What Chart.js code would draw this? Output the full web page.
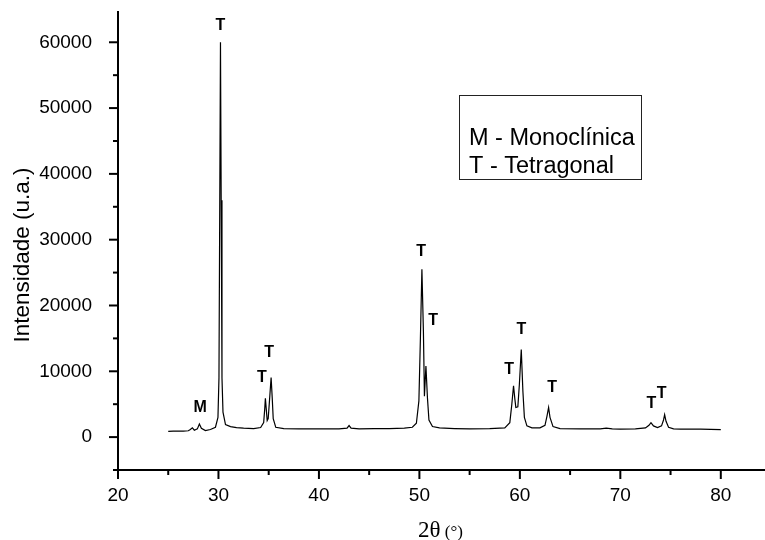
<!DOCTYPE html>
<html>
<head>
<meta charset="utf-8">
<script src="https://cdn.jsdelivr.net/npm/chart.js@4"></script>
<style>
  html, body { margin: 0; padding: 0; background: #fff; }
  #wrap { width: 765px; height: 540px; }
</style>
</head>
<body>
<div id="wrap"><canvas id="xrd" width="765" height="540"></canvas></div>
<script>
// DATA

const twoTheta = [25.0, 25.5, 26.0, 26.5, 27.0, 27.2, 27.4, 27.6, 27.9, 28.1, 28.3, 28.7, 29.2, 29.7,
  29.95, 30.05, 30.13, 30.2, 30.27, 30.35, 30.45, 30.7, 31.2, 31.8, 32.5, 33.5, 34.2, 34.5, 34.6,
  34.67, 34.75, 34.85, 34.95, 35.1, 35.24, 35.35, 35.45, 35.7, 36.5, 38, 40, 42, 42.8, 43.0, 43.2,
  44, 45.5, 47, 48.5, 49.3, 49.7, 49.95, 50.1, 50.25, 50.4, 50.5, 50.65, 50.8, 50.95, 51.3, 52,
  53.5, 55, 57, 58.5, 59.0, 59.2, 59.37, 59.5, 59.6, 59.8, 59.95, 60.14, 60.3, 60.45, 60.7, 61.2,
  62.0, 62.5, 62.7, 62.86, 63.0, 63.3, 64, 66, 68, 68.6, 69.2, 70, 71.5, 72.5, 72.85, 73.05, 73.3,
  73.7, 74.1, 74.3, 74.41, 74.55, 74.8, 75.3, 76, 78, 80];

const intensity = [880, 900, 920, 900, 960, 1150, 1400, 1050, 1250, 2000, 1350, 1000, 1150, 1500,
  3000, 9000, 36000, 60000, 36000, 9000, 3800, 1900, 1600, 1450, 1350, 1300, 1450, 2200, 4200,
  5900, 4400, 2500, 2800, 6000, 9050, 6000, 2800, 1500, 1300, 1250, 1250, 1250, 1350, 1750, 1350,
  1250, 1300, 1300, 1350, 1500, 2100, 5500, 15000, 25500, 16000, 6200, 10800, 6000, 2600, 1600, 1400,
  1300, 1250, 1300, 1400, 2200, 5000, 7800, 5800, 4500, 4600, 8000, 13300, 7000, 3000, 1700, 1400,
  1400, 1800, 3200, 4500, 3000, 1600, 1300, 1250, 1250, 1350, 1250, 1200, 1250, 1400, 1800, 2200, 1700,
  1450, 1700, 2600, 3400, 2400, 1500, 1250, 1200, 1200, 1150];

// peak labels (phase letter, 2theta, intensity where the letter sits)
const peakText = ["M", "T", "T", "T", "T", "T", "T", "T", "T", "T", "T"];
const peakX = [28.17, 30.19, 34.31, 35.04, 50.18, 51.37, 58.94, 60.14, 63.2, 73.1, 74.1];
const peakY = [4450, 62560, 9060, 12860, 28170, 17700, 10230, 16300, 7500, 5060, 6590];

const legendLines = ["M - Monoclínica", "T - Tetragonal"];

// axis ranges and tick values (every tick gets a mark, only labelled ones get text)
const xRange = [20, 84.4];
const yRange = [-5000, 64600];
const xTickValues = [20, 25, 30, 35, 40, 45, 50, 55, 60, 65, 70, 75, 80];
const xTickLabels = [20, 30, 40, 50, 60, 70, 80];
const yTickValues = [-5000, 0, 5000, 10000, 15000, 20000, 25000, 30000, 35000, 40000, 45000,
  50000, 55000, 60000];
const yTickLabels = [0, 10000, 20000, 30000, 40000, 50000, 60000];

// PLUGIN: tick marks, peak letters, legend box, axis titles

const decorations = {
  id: "decorations",
  afterDraw(chart) {
    const ctx = chart.ctx;
    const xs = chart.scales.x;
    const ys = chart.scales.y;
    ctx.save();
    ctx.strokeStyle = "#000";
    ctx.lineWidth = 2;

    // tick marks, long for labelled ones, short for minor
    xs.ticks.forEach(t => {
      const px = xs.getPixelForValue(t.value);
      const len = xTickLabels.includes(t.value) ? 9 : 5;
      ctx.beginPath();
      ctx.moveTo(px, ys.bottom);
      ctx.lineTo(px, ys.bottom + len);
      ctx.stroke();
    });
    ys.ticks.forEach(t => {
      const py = ys.getPixelForValue(t.value);
      const len = yTickLabels.includes(t.value) ? 9 : 5;
      ctx.beginPath();
      ctx.moveTo(xs.left, py);
      ctx.lineTo(xs.left - len, py);
      ctx.stroke();
    });

    // peak letters
    ctx.fillStyle = "#000";
    ctx.font = "bold 16px 'Liberation Sans', Arial, sans-serif";
    ctx.textAlign = "center";
    ctx.textBaseline = "middle";
    peakText.forEach((s, i) => {
      ctx.fillText(s, xs.getPixelForValue(peakX[i]), ys.getPixelForValue(peakY[i]));
    });

    // legend box
    ctx.lineWidth = 1;
    ctx.strokeStyle = "#222";
    ctx.strokeRect(459.5, 95.5, 182, 84);
    ctx.font = "23.5px 'Liberation Sans', Arial, sans-serif";
    ctx.textAlign = "left";
    ctx.fillText(legendLines[0], 469, 139);
    ctx.fillText(legendLines[1], 469, 167);

    // y axis title
    ctx.save();
    ctx.translate(23, 255);
    ctx.rotate(-Math.PI / 2);
    ctx.textAlign = "center";
    ctx.font = "22.5px 'Liberation Sans', Arial, sans-serif";
    ctx.fillText("Intensidade (u.a.)", 0, 0);
    ctx.restore();

    // x axis title: 2θ (°)
    ctx.textAlign = "left";
    ctx.textBaseline = "alphabetic";
    ctx.font = "23px 'Liberation Serif', 'Times New Roman', serif";
    ctx.fillText("2θ", 418, 537);
    const w = ctx.measureText("2θ").width;
    ctx.font = "17px 'Liberation Serif', 'Times New Roman', serif";
    ctx.fillText(" (°)", 418 + w, 537);

    ctx.restore();
  }
};

// CHART

const tickFont = { family: "'Liberation Sans', Arial, sans-serif", size: 19 };

new Chart(document.getElementById("xrd").getContext("2d"), {
  type: "line",
  data: {
    datasets: [{
      data: twoTheta.map((x, i) => ({ x: x, y: intensity[i] })),
      borderColor: "#000",
      borderWidth: 1.2,
      pointRadius: 0,
      tension: 0,
      fill: false
    }]
  },
  options: {
    responsive: false,
    animation: false,
    events: [],
    layout: { padding: { top: 12, right: 0, left: 0, bottom: 0 } },
    plugins: { legend: { display: false }, tooltip: { enabled: false } },
    scales: {
      x: {
        type: "linear",
        min: xRange[0],
        max: xRange[1],
        bounds: "data",
        grid: { display: false },
        border: { display: true, color: "#000", width: 2 },
        afterBuildTicks: s => { s.ticks = xTickValues.map(v => ({ value: v })); },
        ticks: {
          autoSkip: false,
          maxRotation: 0,
          padding: 6,
          color: "#000",
          font: tickFont,
          callback: v => (xTickLabels.includes(v) ? String(v) : "")
        },
        afterFit: s => { s.height = 70; s.paddingLeft = 0; s.paddingRight = 0; }
      },
      y: {
        type: "linear",
        min: yRange[0],
        max: yRange[1],
        bounds: "data",
        grid: { display: false },
        border: { display: true, color: "#000", width: 2 },
        afterBuildTicks: s => { s.ticks = yTickValues.map(v => ({ value: v })); },
        ticks: {
          autoSkip: false,
          padding: 18,
          color: "#000",
          font: tickFont,
          callback: v => (yTickLabels.includes(v) ? String(v) : "")
        },
        afterFit: s => { s.width = 118; s.paddingTop = 0; s.paddingBottom = 0; }
      }
    }
  },
  plugins: [decorations]
});
</script>
</body>
</html>
